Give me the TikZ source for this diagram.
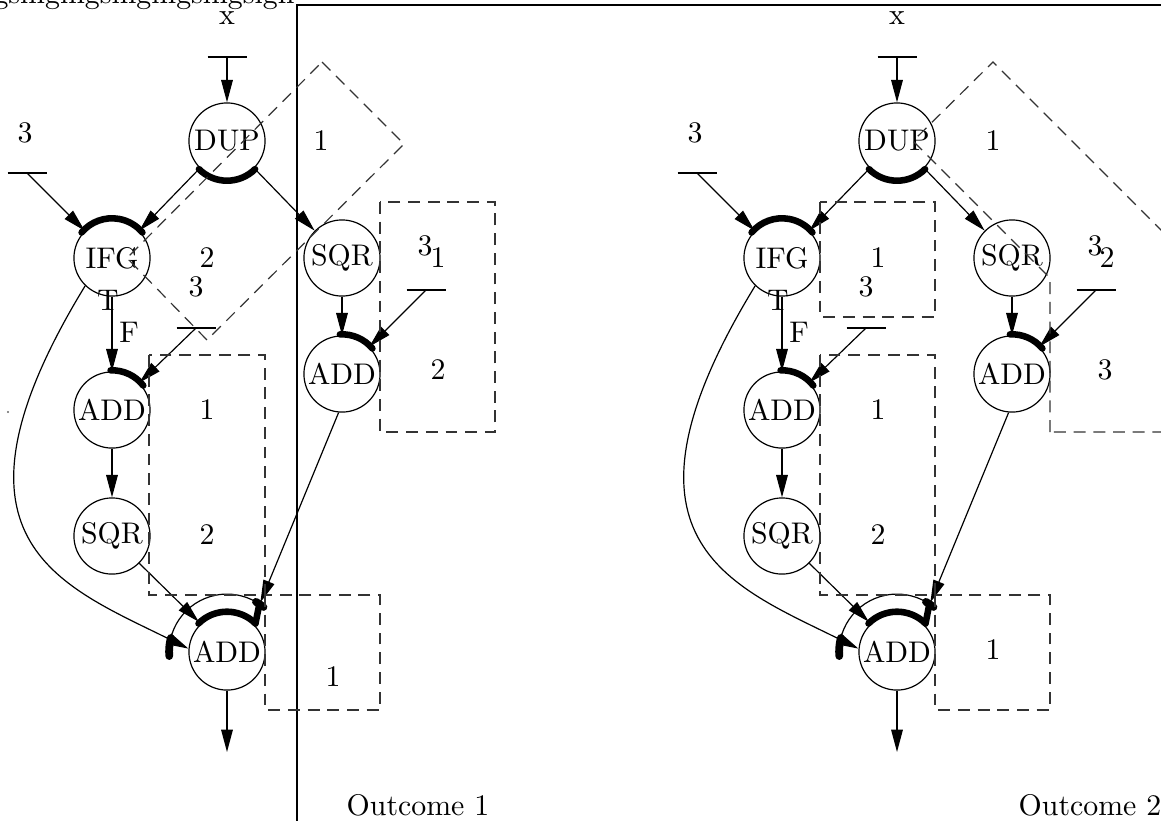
\documentclass[tikz,border=0pt]{standalone}
\usetikzlibrary{arrows.meta,calc}
\begin{document}
\begin{tikzpicture}[x=0.335pt,y=0.335pt,
  op/.style={circle,draw,minimum size=25.5pt,inner sep=0pt},
  lab/.style={inner sep=0pt},
  arr/.style={-{Triangle[length=7.5pt,width=3.9pt]}},
  grp/.style={line width=2.2pt,line cap=round},
  zone/.style={draw=black!80,dash pattern=on 4pt off 2.6pt},
  frame/.style={line width=0.5pt}
]
\useasboundingbox (0,0) rectangle (1161,-820);
\clip (0,0) rectangle (1161,-820);

% heading text and frame
\node[lab,anchor=base east] (head) at (295,-3) {ingsingingsingingsingsign};
\coordinate (frBL) at (297,-830);
\coordinate (frTL) at (297,-5);
\coordinate (frTR) at (1170,-5);
\draw[frame] (frBL) -- (frTL) -- (frTR);
\fill[black!60] (8,-412) circle[radius=0.4pt];

\foreach \p/\dx in {L/0,R/670}{
\begin{scope}[shift={(\dx,0)}]
  \node[op] (dup\p) at (227,-141) {DUP};
  \node[op] (ifg\p) at (112,-258) {IFG};
  \node[op] (sqa\p) at (342,-258) {SQR};
  \node[op] (ada\p) at (342,-374) {ADD};
  \node[op] (adb\p) at (112,-410) {ADD};
  \node[op] (sqb\p) at (112,-536) {SQR};
  \node[op] (adc\p) at (227,-652) {ADD};

  \node[lab] (xl\p) at (227,-18) {x};
  \node[lab] (ta\p) at (25,-133) {3};
  \node[lab] (tb\p) at (425,-246) {3};
  \node[lab] (tc\p) at (196,-287) {3};
  \node[lab] (tT\p) at (108,-300) {T};
  \node[lab] (tF\p) at (129,-332) {F};

  \coordinate (inx\p) at (227,-57);
  \coordinate (ina\p) at (27,-173);
  \coordinate (inb\p) at (426,-290);
  \coordinate (inc\p) at (196,-328);
  \coordinate (out\p) at (227,-752);
  \foreach \c in {inx,ina,inb,inc}{
    \draw ($(\c\p)+(-19.5,0)$) -- ($(\c\p)+(19.5,0)$);
  }

  % thick input-group arcs
  \draw[grp] ($(dup\p)+(225:13.3pt)$) arc[start angle=225,end angle=315,radius=13.3pt];
  \draw[grp] ($(ifg\p)+(140:13.3pt)$) arc[start angle=140,end angle=40,radius=13.3pt];
  \draw[grp] ($(ada\p)+(93:13.3pt)$) arc[start angle=93,end angle=40,radius=13.3pt];
  \draw[grp] ($(adb\p)+(92:13.3pt)$) arc[start angle=92,end angle=38,radius=13.3pt];
  \draw[grp] ($(adc\p)+(135:13.5pt)$) arc[start angle=135,end angle=45,radius=13.5pt];
  \draw ($(adc\p)+(185:19.4pt)$) arc[start angle=185,end angle=55,radius=19.4pt];
  \draw[grp,line width=2.6pt] ($(adc\p)+(166:19.4pt)$) arc[start angle=166,end angle=184,radius=19.4pt];
  \draw[grp] ($(adc\p)+(45:13.5pt)$) -- ($(adc\p)+(56:19.4pt)$);
  \draw[grp,line width=2.6pt] ($(adc\p)+(51:19.4pt)$) arc[start angle=51,end angle=60,radius=19.4pt];
  \coordinate (adcI\p) at ($(adc\p)+(133:13.8pt)$);
  \coordinate (adcO\p) at ($(adc\p)+(56:20pt)$);

  % connectors
  \draw[arr] (inx\p) -- (dup\p);
  \draw[arr] (ina\p) -- (ifg\p);
  \draw[arr] (dup\p.225) -- (ifg\p.45);
  \draw[arr] (dup\p.315) -- (sqa\p.135);
  \draw[arr] (sqa\p) -- (ada\p);
  \draw[arr] (inb\p) -- (ada\p.45);
  \draw[arr] (ifg\p) -- (adb\p);
  \draw[arr] (inc\p) -- (adb\p.45);
  \draw[arr] (adb\p) -- (sqb\p);
  \draw[arr] (sqb\p.315) -- (adcI\p);
  \draw[arr] (ada\p.265) -- (adcO\p);
  \draw[arr] (ifg\p.226) .. controls (-70,-540) and (60,-585) .. (adc\p.175);
  \draw[arr] (adc\p) -- (out\p);
\end{scope}
}

% Outcome 1 zones
\draw[zone] (322,-62) -- (404,-144) -- (207,-340) -- (127,-258) -- cycle;
\draw[zone] (380,-202) rectangle (495,-432);
\draw[zone] (149,-355) rectangle (265,-595);
\draw[zone] (265,-595) rectangle (380,-710);
\node[lab] (z1a) at (321,-141) {1};
\node[lab] (z1b) at (207,-258) {2};
\node[lab] (z1c) at (438,-258) {1};
\node[lab] (z1d) at (438,-370) {2};
\node[lab] (z1e) at (207,-410) {1};
\node[lab] (z1f) at (207,-535) {2};
\node[lab] (z1g) at (333,-677) {1};
\node[lab] (oc1) at (418,-805) {Outcome 1};

% Outcome 2 zones
\draw[zone] (1050,-432) -- (1050,-278) -- (913,-141) -- (993,-62) -- (1363,-432) -- cycle;
\draw[zone] (820,-202) rectangle (935,-317);
\draw[zone] (820,-355) rectangle (935,-595);
\draw[zone] (935,-595) rectangle (1050,-710);
\node[lab] (z2a) at (993,-141) {1};
\node[lab] (z2b) at (878,-258) {1};
\node[lab] (z2c) at (1107,-258) {2};
\node[lab] (z2d) at (1105,-370) {3};
\node[lab] (z2e) at (878,-410) {1};
\node[lab] (z2f) at (878,-535) {2};
\node[lab] (z2g) at (993,-650) {1};
\node[lab] (oc2) at (1090,-805) {Outcome 2};
\end{tikzpicture}
\end{document}
